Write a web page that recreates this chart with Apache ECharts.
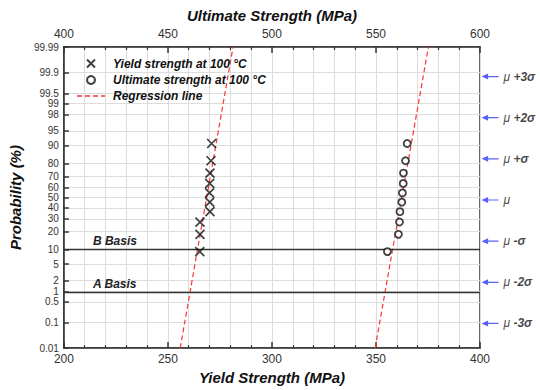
<!DOCTYPE html>
<html>
<head>
<meta charset="utf-8">
<script src="https://cdn.jsdelivr.net/npm/echarts@6/dist/echarts.min.js"></script>
<style>
  html, body { margin: 0; padding: 0; background: #fff; }
  #chart { width: 540px; height: 390px; }
</style>
</head>
<body>
<div id="chart"></div>
<script>
// probability paper ticks (%)
var probTicks = [0.01, 0.1, 0.5, 1, 2, 5, 10, 20, 30, 40, 50, 60, 70, 80, 90, 95, 98, 99, 99.5, 99.9, 99.99];
// plotting positions of the 10 specimens (%)
var rankProb = [9.09, 18.18, 27.27, 36.36, 45.45, 54.55, 63.64, 72.73, 81.82, 90.91];
var yieldVals = [265.3, 265.4, 265.4, 270.2, 270.1, 270.0, 270.1, 270.2, 270.7, 271.0];
var ultimateVals = [555.5, 560.8, 561.3, 561.5, 562.4, 562.7, 563.1, 563.2, 564.2, 565.0];
// regression line end points
var regProb = [0.01, 99.99];
var yieldReg = [255.9, 281.3];
var ultimateReg = [549.6, 575.2];
// design allowable levels
var basisProb = [10, 1];
var basisNames = ['B Basis', 'A Basis'];
// sigma markers on the right
var sigmaLevels = [3, 2, 1, 0, -1, -2, -3];
var sigmaLabels = ['+3σ', '+2σ', '+σ', '', '-σ', '-2σ', '-3σ'];

var font = 'Liberation Sans, Arial, sans-serif';
var ink = '#333';

// inverse normal cdf (Acklam)
function probit(p) {
  var a = [-3.969683028665376e+01, 2.209460984245205e+02, -2.759285104469687e+02, 1.383577518672690e+02, -3.066479806614716e+01, 2.506628277459239e+00];
  var b = [-5.447609879822406e+01, 1.615858368580409e+02, -1.556989798598866e+02, 6.680131188771972e+01, -1.328068155288572e+01];
  var c = [-7.784894002430293e-03, -3.223964580411365e-01, -2.400758277161838e+00, -2.549732539343734e+00, 4.374664141464968e+00, 2.938163982698783e+00];
  var d = [7.784695709041462e-03, 3.224671290700398e-01, 2.445134137142996e+00, 3.754408661907416e+00];
  var pl = 0.02425, q, r;
  if (p < pl) {
    q = Math.sqrt(-2 * Math.log(p));
    return (((((c[0]*q+c[1])*q+c[2])*q+c[3])*q+c[4])*q+c[5]) / ((((d[0]*q+d[1])*q+d[2])*q+d[3])*q+1);
  }
  if (p > 1 - pl) {
    q = Math.sqrt(-2 * Math.log(1 - p));
    return -(((((c[0]*q+c[1])*q+c[2])*q+c[3])*q+c[4])*q+c[5]) / ((((d[0]*q+d[1])*q+d[2])*q+d[3])*q+1);
  }
  q = p - 0.5; r = q * q;
  return (((((a[0]*r+a[1])*r+a[2])*r+a[3])*r+a[4])*r+a[5])*q / (((((b[0]*r+b[1])*r+b[2])*r+b[3])*r+b[4])*r+1);
}
function z(pct) { return probit(pct / 100); }

var zMin = z(probTicks[0]);
var zMax = z(probTicks[probTicks.length - 1]);
var tickZ = probTicks.map(z);

function probLabel(v) {
  var best = 0;
  tickZ.forEach(function(t, i) { if (Math.abs(t - v) < Math.abs(tickZ[best] - v)) best = i; });
  return String(probTicks[best]);
}

var crossPath = 'path://M0,0 L10,10 M10,0 L0,10';
var arrowPath = 'path://M0,3 L7,0 L7,2.4 L18,2.4 L18,3.6 L7,3.6 L7,6 Z';
var dashPath = 'path://M0,0h5v1.4h-5z M8,0h5v1.4h-5z M16,0h5v1.4h-5z M24,0h4v1.4h-4z';

var xAxisCommon = {
  type: 'value',
  interval: 50,
  axisLine: { show: true, onZero: false, lineStyle: { color: ink, width: 1.5 } },
  axisTick: { show: true, inside: true, length: 6, lineStyle: { color: ink, width: 1.5 } },
  minorTick: { show: true, splitNumber: 5, length: 3, lineStyle: { color: ink, width: 1.2 } },
  axisLabel: { color: ink, fontSize: 12, fontFamily: font, margin: 5 },
  nameLocation: 'middle',
  nameTextStyle: { color: '#111', fontSize: 15, fontWeight: 'bold', fontStyle: 'italic', fontFamily: font }
};

var chart = echarts.init(document.getElementById('chart'), null, { renderer: 'svg' });
chart.setOption({
  animation: false,
  backgroundColor: '#fff',
  grid: [
    { left: 63, right: 60, top: 47, bottom: 37, show: true, borderColor: ink, borderWidth: 1.5 },
    { left: 480, right: 0, top: 47, bottom: 37 }
  ],
  legend: {
    orient: 'vertical',
    left: 72,
    top: 52,
    itemWidth: 28,
    itemHeight: 8,
    itemGap: 4,
    textStyle: { color: '#111', fontSize: 12, fontWeight: 'bold', fontStyle: 'italic', fontFamily: font, padding: [0, 0, 0, 3] },
    data: [
      { name: 'Yield strength at 100 °C', icon: crossPath },
      { name: 'Ultimate strength at 100 °C', icon: 'circle' },
      { name: 'Regression line', icon: dashPath, itemStyle: { color: '#f33' } }
    ]
  },
  xAxis: [
    Object.assign({}, xAxisCommon, {
      gridIndex: 0, position: 'bottom', min: 200, max: 400,
      name: 'Yield Strength (MPa)', nameGap: 20,
      splitLine: { show: true, lineStyle: { color: '#ddd', width: 1 } },
      minorSplitLine: { show: true, lineStyle: { color: '#ddd', width: 1 } }
    }),
    Object.assign({}, xAxisCommon, {
      gridIndex: 0, position: 'top', min: 400, max: 600,
      name: 'Ultimate Strength (MPa)', nameGap: 22,
      axisLabel: { color: ink, fontSize: 12, fontFamily: font, margin: 7 },
      splitLine: { show: false }
    }),
    { type: 'value', gridIndex: 1, min: 0, max: 60, show: false }
  ],
  yAxis: [
    {
      type: 'value', gridIndex: 0, min: zMin, max: zMax,
      name: 'Probability (%)', nameLocation: 'middle', nameGap: 33,
      nameTextStyle: { color: '#111', fontSize: 15, fontWeight: 'bold', fontStyle: 'italic', fontFamily: font },
      axisLine: { show: true, onZero: false, lineStyle: { color: ink, width: 1.5 } },
      axisTick: { show: true, inside: true, length: 5, customValues: tickZ, lineStyle: { color: ink, width: 1.5 } },
      axisLabel: { color: ink, fontSize: 10, lineHeight: 9, fontFamily: font, margin: 5, customValues: tickZ, formatter: probLabel },
      splitLine: { show: true, lineStyle: { color: '#ddd', width: 1 } }
    },
    { type: 'value', gridIndex: 1, min: zMin, max: zMax, show: false }
  ],
  series: [
    {
      name: 'Yield strength at 100 °C',
      type: 'scatter',
      xAxisIndex: 0, yAxisIndex: 0,
      symbol: crossPath,
      symbolSize: 9,
      itemStyle: { color: 'none', borderColor: '#111', borderWidth: 1.7 },
      data: yieldVals.map(function(v, i) { return [v, z(rankProb[i])]; }),
      z: 5
    },
    {
      name: 'Ultimate strength at 100 °C',
      type: 'scatter',
      xAxisIndex: 1, yAxisIndex: 0,
      symbol: 'circle',
      symbolSize: 7,
      itemStyle: { color: '#fff', borderColor: '#111', borderWidth: 1.8 },
      data: ultimateVals.map(function(v, i) { return [v, z(rankProb[i])]; }),
      z: 5
    },
    {
      name: 'Regression line',
      type: 'line',
      xAxisIndex: 0, yAxisIndex: 0,
      symbol: 'none',
      lineStyle: { color: '#f33', width: 1.2, type: [5, 3] },
      itemStyle: { color: '#f33' },
      data: yieldReg.map(function(v, i) { return [v, z(regProb[i])]; }),
      markLine: {
        silent: true,
        symbol: 'none',
        lineStyle: { color: ink, width: 1.3, type: 'solid' },
        label: {
          position: 'insideStartTop',
          distance: [29, 2],
          color: '#222', fontSize: 12, fontWeight: 'bold', fontStyle: 'italic', fontFamily: font,
          formatter: function(p) { return p.name; }
        },
        data: basisProb.map(function(p, i) { return { name: basisNames[i], yAxis: z(p) }; })
      }
    },
    {
      name: 'Regression line',
      type: 'line',
      xAxisIndex: 1, yAxisIndex: 0,
      symbol: 'none',
      lineStyle: { color: '#f33', width: 1.2, type: [5, 3] },
      itemStyle: { color: '#f33' },
      data: ultimateReg.map(function(v, i) { return [v, z(regProb[i])]; })
    },
    {
      type: 'scatter',
      xAxisIndex: 2, yAxisIndex: 1,
      symbol: arrowPath,
      symbolSize: [17, 6],
      itemStyle: { color: '#2b3bff' },
      silent: true,
      label: {
        show: true,
        position: 'right',
        distance: 5,
        formatter: function(p) { return '{m|μ} {s|' + sigmaLabels[p.dataIndex] + '}'; },
        rich: {
          m: { fontSize: 12, fontStyle: 'italic', color: '#111', fontFamily: font },
          s: { fontSize: 12, fontStyle: 'italic', fontWeight: 'bold', color: '#111', fontFamily: font }
        }
      },
      data: sigmaLevels.map(function(s) { return [10, s]; })
    }
  ]
});
window.addEventListener('resize', function() { chart.resize(); });
</script>
</body>
</html>
